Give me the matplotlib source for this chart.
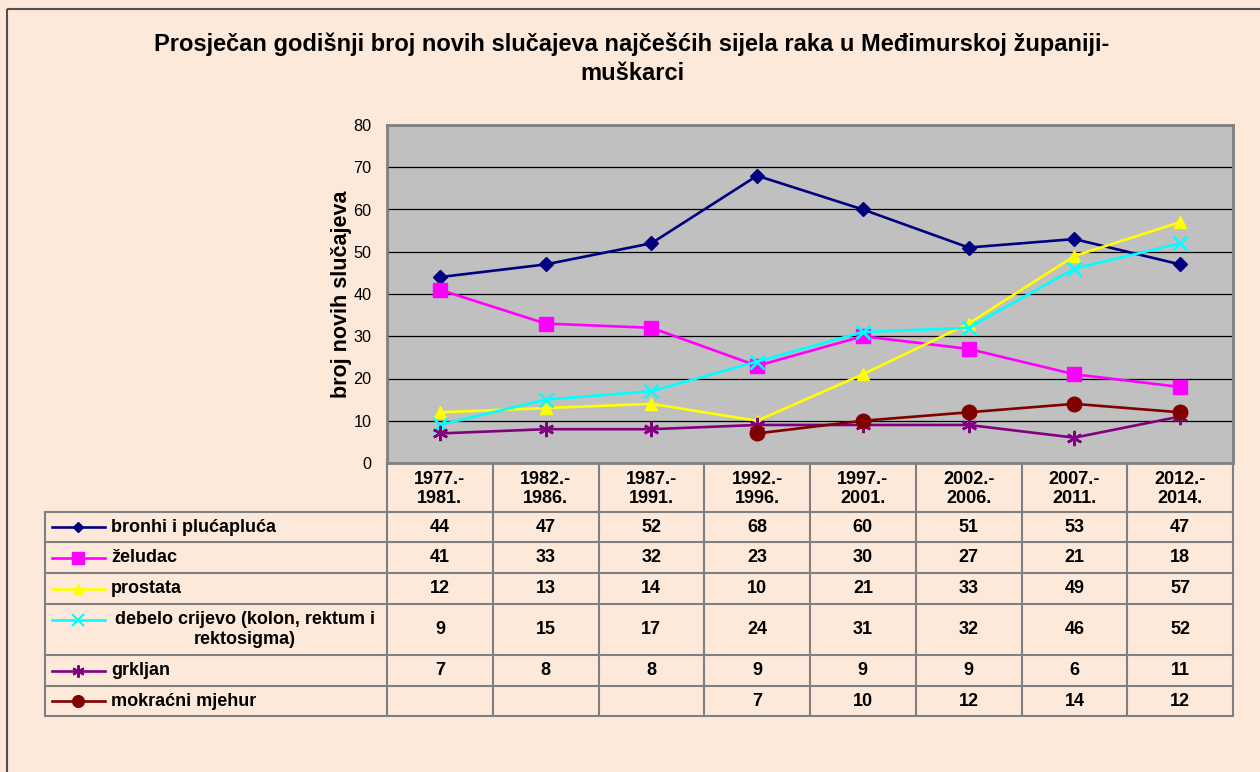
import matplotlib.pyplot as plt
from matplotlib.lines import Line2D
from matplotlib.patches import Rectangle

plt.rcParams['font.family'] = ['Liberation Sans', 'DejaVu Sans']

# data
periods = ['1977.-\n1981.', '1982.-\n1986.', '1987.-\n1991.', '1992.-\n1996.',
           '1997.-\n2001.', '2002.-\n2006.', '2007.-\n2011.', '2012.-\n2014.']
names = ['bronhi i plućapluća', 'želudac', 'prostata',
         'debelo crijevo (kolon, rektum i\nrektosigma)', 'grkljan', 'mokraćni mjehur']
bronhi = [44, 47, 52, 68, 60, 51, 53, 47]
zeludac = [41, 33, 32, 23, 30, 27, 21, 18]
prostata = [12, 13, 14, 10, 21, 33, 49, 57]
debelo = [9, 15, 17, 24, 31, 32, 46, 52]
grkljan = [7, 8, 8, 9, 9, 9, 6, 11]
mokracni = [None, None, None, 7, 10, 12, 14, 12]
series = [bronhi, zeludac, prostata, debelo, grkljan, mokracni]

colors = ['#000080', '#FF00FF', '#FFFF00', '#00FFFF', '#800080', '#800000']
markers = ['D', 's', '^', 'x', (6, 2, 0), 'o']
msizes = [7, 10, 9, 10, 11, 10.5]

bg = '#FDE9DA'
W, H = 1260, 772
fig = plt.figure(figsize=(W / 100, H / 100), dpi=100, facecolor=bg)

# plot area in pixels
x0, x1, y0, y1 = 387, 1233, 125, 463
ax = fig.add_axes([x0 / W, 1 - y1 / H, (x1 - x0) / W, (y1 - y0) / H])
ax.set_facecolor('#C0C0C0')
xs = list(range(len(periods)))
for s, c, m, ms in zip(series, colors, markers, msizes):
    px = [x for x, v in zip(xs, s) if v is not None]
    py = [v for v in s if v is not None]
    ax.plot(px, py, color=c, marker=m, markersize=ms, linewidth=1.9,
            markeredgewidth=1.8 if m in ('x', (6, 2, 0)) else 1, zorder=3)
ax.set_xlim(-0.5, len(periods) - 0.5)
ax.set_ylim(0, 80)
ax.set_yticks(range(0, 81, 10))
ax.set_xticks([])
ax.grid(axis='y', color='black', linewidth=0.9)
ax.set_axisbelow(True)
ax.tick_params(axis='y', length=0, labelsize=11.7, pad=11)
for sp in ax.spines.values():
    sp.set_color('#808080')
    sp.set_linewidth(2)
ax.set_ylabel('broj novih slučajeva', fontsize=15.5, fontweight='bold', labelpad=1)

# overlay in pixel coords for title, table, border
ov = fig.add_axes([0, 0, 1, 1], facecolor='none')
ov.set_xlim(0, W)
ov.set_ylim(H, 0)
ov.axis('off')
ov.add_patch(Rectangle((7, 9), 1400, 900, fill=False, edgecolor='#505050', linewidth=1.5))

ov.text(632, 44, 'Prosječan godišnji broj novih slučajeva najčešćih sijela raka u Međimurskoj županiji-',
        ha='center', va='center', fontsize=17, fontweight='bold')
ov.text(632, 73, 'muškarci', ha='center', va='center', fontsize=17, fontweight='bold')

# table
colw = (x1 - x0) / len(periods)
rows = [463, 512, 542, 573, 604, 655, 686, 716]
tab_left = 45
gc = '#808080'
fs = 13
for i, p in enumerate(periods):
    ov.text(x0 + colw * (i + 0.5), 489, p, ha='center', va='center',
            fontsize=fs, fontweight='bold', linespacing=1.2)
for j in range(len(periods) + 1):
    ov.plot([x0 + colw * j] * 2, [rows[0], rows[-1]], color=gc, linewidth=1.5)
ov.plot([tab_left] * 2, [rows[1], rows[-1]], color=gc, linewidth=1.5)
for r in rows[1:]:
    ov.plot([tab_left, x1], [r, r], color=gc, linewidth=1.5)

for k, (nm, s, c, m, ms) in enumerate(zip(names, series, colors, markers, msizes)):
    yc = (rows[k + 1] + rows[k + 2]) / 2
    ky = yc - 10 if '\n' in nm else yc
    ov.add_line(Line2D([52, 105], [ky, ky], color=c, linewidth=1.9))
    ov.add_line(Line2D([78], [ky], color=c, marker=m, markersize=ms * 0.8,
                       markeredgewidth=1.5 if m in ('x', (6, 2, 0)) else 1))
    if '\n' in nm:
        ov.text(245, yc, nm, ha='center', va='center', fontsize=fs,
                fontweight='bold', multialignment='center', linespacing=1.3)
    else:
        ov.text(111, yc, nm, ha='left', va='center', fontsize=fs, fontweight='bold')
    for i, v in enumerate(s):
        if v is not None:
            ov.text(x0 + colw * (i + 0.5), yc, str(v), ha='center', va='center',
                    fontsize=fs, fontweight='bold')

plt.savefig('out.png', dpi=100, facecolor=bg)
